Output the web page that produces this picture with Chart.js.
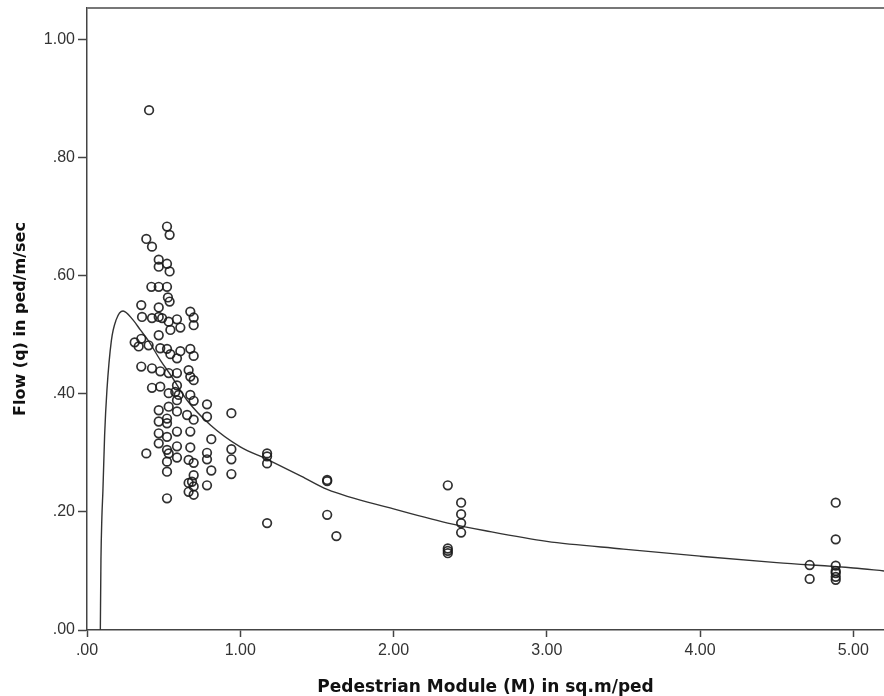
<!DOCTYPE html>
<html>
<head>
<meta charset="utf-8">
<script src="https://cdn.jsdelivr.net/npm/chart.js@4/dist/chart.umd.min.js"></script>
<style>
  html, body { margin: 0; padding: 0; background: #fff; }
  #wrap { width: 884px; height: 696px; }
</style>
</head>
<body>
<div id="wrap"><canvas id="c" width="884" height="696"></canvas></div>
<script>
// Observed pedestrian module (M) values
const moduleM = [
  0.405, 0.522, 0.539, 0.387, 0.424, 0.468, 0.468, 0.522, 0.539, 0.420,
  0.468, 0.522, 0.528, 0.539, 0.354, 0.468, 0.674, 0.696, 0.359, 0.424,
  0.468, 0.490, 0.587, 0.696, 0.533, 0.609, 0.544, 0.468, 0.311, 0.354,
  0.337, 0.402, 0.478, 0.522, 0.609, 0.674, 0.544, 0.696, 0.587, 0.354,
  0.424, 0.478, 0.533, 0.587, 0.663, 0.674, 0.696, 0.424, 0.478, 0.533,
  0.587, 0.576, 0.598, 0.674, 0.587, 0.696, 0.783, 0.468, 0.533, 0.587,
  0.653, 0.783, 0.942, 0.522, 0.696, 0.468, 0.522, 0.468, 0.522, 0.587,
  0.674, 0.811, 0.468, 0.522, 0.587, 0.387, 0.533, 0.587, 0.674, 0.663,
  0.696, 0.783, 0.783, 0.942, 0.942, 0.522, 0.522, 0.696, 0.811, 0.942,
  0.663, 0.685, 0.696, 0.783, 0.663, 0.696, 0.522,
  1.175, 1.175, 1.175, 1.175, 1.567, 1.567, 1.567, 1.627,
  2.354, 2.354, 2.354, 2.354, 2.441, 2.441, 2.441, 2.441,
  4.715, 4.715, 4.885, 4.885, 4.885, 4.885, 4.885, 4.885, 4.885
];
// Observed flow (q) values
const flowQ = [
  0.880, 0.683, 0.669, 0.662, 0.649, 0.627, 0.615, 0.620, 0.607, 0.581,
  0.581, 0.581, 0.563, 0.556, 0.550, 0.546, 0.539, 0.529, 0.530, 0.528,
  0.530, 0.528, 0.526, 0.516, 0.522, 0.512, 0.508, 0.499, 0.487, 0.493,
  0.480, 0.482, 0.477, 0.476, 0.472, 0.476, 0.467, 0.464, 0.460, 0.446,
  0.443, 0.438, 0.435, 0.435, 0.440, 0.429, 0.423, 0.410, 0.412, 0.401,
  0.414, 0.403, 0.398, 0.398, 0.389, 0.388, 0.382, 0.372, 0.378, 0.370,
  0.364, 0.361, 0.367, 0.358, 0.356, 0.353, 0.350, 0.333, 0.327, 0.336,
  0.336, 0.323, 0.316, 0.305, 0.311, 0.299, 0.299, 0.292, 0.309, 0.288,
  0.283, 0.300, 0.289, 0.306, 0.289, 0.285, 0.268, 0.262, 0.270, 0.264,
  0.249, 0.251, 0.243, 0.245, 0.234, 0.229, 0.223,
  0.299, 0.294, 0.282, 0.181, 0.254, 0.252, 0.195, 0.159,
  0.245, 0.138, 0.134, 0.130, 0.2155, 0.196, 0.181, 0.165,
  0.110, 0.0865, 0.2155, 0.1535, 0.109, 0.100, 0.0965, 0.090, 0.085
];
// Fitted curve
const curveM = [0.087, 0.091, 0.097, 0.104, 0.115, 0.130, 0.159, 0.190, 0.235, 0.300, 0.348, 0.400, 0.478, 0.550, 0.653, 0.805, 1.000, 1.175, 1.400, 1.567, 2.000, 2.354, 2.600, 3.000, 3.500, 4.000, 4.500, 5.000, 5.200];
const curveQ = [0.000, 0.118, 0.190, 0.237, 0.330, 0.406, 0.490, 0.525, 0.540, 0.525, 0.508, 0.490, 0.457, 0.430, 0.389, 0.347, 0.310, 0.289, 0.260, 0.238, 0.205, 0.181, 0.168, 0.150, 0.137, 0.125, 0.114, 0.105, 0.100];
// Tick values
const xTicks = [0, 1, 2, 3, 4, 5];
const yTicks = [0, 0.2, 0.4, 0.6, 0.8, 1.0];

const fmt = v => v.toFixed(2).replace(/^0/, '');

const topFrame = {
  id: 'topFrame',
  afterDraw(chart) {
    const a = chart.chartArea, ctx = chart.ctx;
    ctx.save();
    ctx.strokeStyle = '#777';
    ctx.lineWidth = 2;
    ctx.beginPath();
    ctx.moveTo(a.left, a.top);
    ctx.lineTo(a.right, a.top);
    ctx.stroke();
    ctx.restore();
  }
};

new Chart(document.getElementById('c'), {
  type: 'scatter',
  data: {
    datasets: [
      {
        data: moduleM.map((m, i) => ({ x: m, y: flowQ[i] })),
        pointStyle: 'circle',
        pointRadius: 4.3,
        pointBorderWidth: 1.7,
        borderColor: 'rgba(25,25,25,0.9)',
        backgroundColor: 'rgba(0,0,0,0)',
        pointHoverRadius: 4.3
      },
      {
        data: curveM.map((m, i) => ({ x: m, y: curveQ[i] })),
        showLine: true,
        pointRadius: 0,
        borderColor: '#333',
        borderWidth: 1.4,
        cubicInterpolationMode: 'monotone',
        fill: false
      }
    ]
  },
  options: {
    responsive: false,
    devicePixelRatio: 1,
    animation: false,
    layout: { autoPadding: false, padding: { top: 8, right: 0, left: 0, bottom: 0 } },
    plugins: { legend: { display: false }, tooltip: { enabled: false } },
    scales: {
      x: {
        type: 'linear',
        min: 0, max: 5.2,
        afterBuildTicks: s => { s.ticks = xTicks.map(v => ({ value: v })); },
        afterFit: s => { s.height = 66; s.paddingRight = 0; s.paddingLeft = 0; },
        grid: { display: true, drawOnChartArea: false, drawTicks: true, tickLength: 7, tickColor: '#444', tickWidth: 1.5 },
        border: { display: true, color: '#444', width: 1.5 },
        ticks: { callback: v => fmt(v), color: '#333', padding: 4, font: { family: 'Liberation Sans', size: 16 }, maxRotation: 0 },
        title: { display: true, text: 'Pedestrian Module (M) in sq.m/ped', color: '#111', padding: 0,
                 font: { family: 'DejaVu Sans', size: 17, weight: 'bold', lineHeight: 1 } }
      },
      y: {
        type: 'linear',
        min: 0, max: 1.053,
        afterBuildTicks: s => { s.ticks = yTicks.map(v => ({ value: v })); },
        afterFit: s => { s.width = 87; s.paddingTop = 0; s.paddingBottom = 0; },
        grid: { display: true, drawOnChartArea: false, drawTicks: true, tickLength: 9, tickColor: '#444', tickWidth: 1.5 },
        border: { display: true, color: '#444', width: 1.5 },
        ticks: { callback: v => fmt(v), color: '#333', padding: 3, font: { family: 'Liberation Sans', size: 16 } },
        title: { display: true, text: 'Flow (q) in ped/m/sec', color: '#111', padding: { top: 11, bottom: 0 },
                 font: { family: 'DejaVu Sans', size: 16, weight: 'bold', lineHeight: 1.2 } }
      }
    }
  },
  plugins: [topFrame]
});
</script>
</body>
</html>
